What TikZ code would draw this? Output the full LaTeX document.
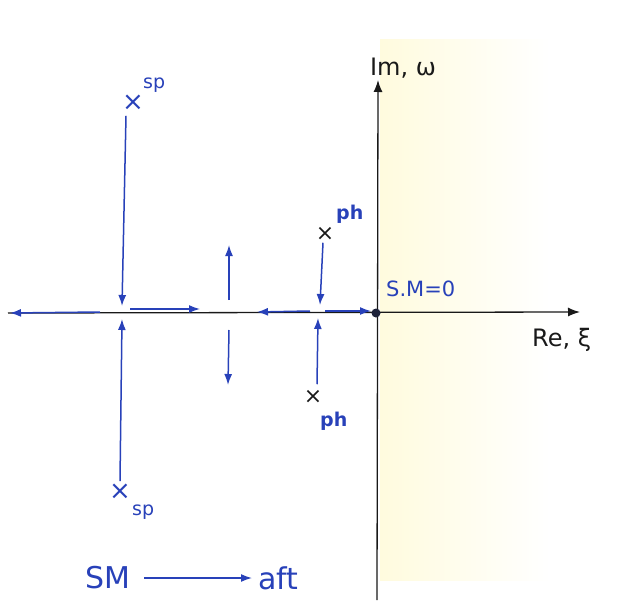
\documentclass[tikz,border=0pt]{standalone}
\usepackage{fontspec}
\setmainfont{DejaVu Sans}
\usetikzlibrary{arrows.meta}
\definecolor{pen}{RGB}{40,65,185}
\definecolor{ink}{RGB}{25,25,25}
\definecolor{hl}{RGB}{255,251,222}
\tikzset{
  axis/.style={ink, line width=1.3pt, -{Latex[length=12pt,width=9pt]}},
  locus/.style={pen, line width=1.5pt, -{Latex[length=11pt,width=8pt]}},
  bpole/.style={pen, font=\fontsize{26}{26}\selectfont, inner sep=0pt},
  kpole/.style={ink, font=\fontsize{22}{22}\selectfont, inner sep=0pt},
  lab/.style={pen, font=\fontsize{19}{19}\selectfont, inner sep=0pt},
  axlab/.style={ink, font=\fontsize{24}{24}\selectfont, inner sep=0pt},
}
\begin{document}
\begin{tikzpicture}[x=1pt,y=-1pt]
\useasboundingbox (0,0) rectangle (622,602);
\shade[left color=hl, right color=white] (380,40) rectangle (550,580);
\shade[top color=white, bottom color=white, middle color=white, opacity=0.0] (380,40) rectangle (550,60);
% axes
\coordinate (reL) at (8,313);
\coordinate (reR) at (580,312);
\coordinate (imB) at (377,600);
\coordinate (imT) at (378,80);
\draw[axis] (reL) -- (reR);
\draw[axis] (imB) -- (imT);
\node[axlab, anchor=south] (imlab) at (403,78) {Im, ω};
\node[axlab, anchor=north west] (relab) at (532,328) {Re, ξ};
% origin
\node[circle, fill=ink!80!pen, minimum size=9pt, inner sep=0pt] (o) at (376,313) {};
\node[lab, font=\fontsize{21}{21}\selectfont, anchor=west] (sm0) at (386,289) {S.M=0};
% short period poles
\node[bpole] (sp1) at (133,103) {×};
\node[lab, anchor=south west] (sp1l) at (143,93) {sp};
\node[bpole] (sp2) at (120,492) {×};
\node[lab, anchor=north west] (sp2l) at (132,505) {sp};
\coordinate (spU) at (122,306);
\coordinate (spD) at (122,319);
\draw[locus] (sp1.south) ++(-7,5) -- (spU);
\draw[locus] (sp2.north) ++(0,-3) -- (spD);
\coordinate (spR0) at (130,309);
\coordinate (spR1) at (200,309);
\draw[locus] (spR0) -- (spR1);
\coordinate (spL0) at (100,312);
\coordinate (spL1) at (10,313);
\draw[locus] (spL0) -- (spL1);
% breakaway vertical arrows
\coordinate (bU0) at (229,300);
\coordinate (bU1) at (229,245);
\coordinate (bD0) at (229,330);
\coordinate (bD1) at (228,385);
\draw[locus] (bU0) -- (bU1);
\draw[locus] (bD0) -- (bD1);
% phugoid poles
\node[kpole] (ph1) at (325,234) {×};
\node[lab, font=\fontsize{19}{19}\bfseries\selectfont, anchor=west] (ph1l) at (336,214) {ph};
\node[kpole] (ph2) at (313,397) {×};
\node[lab, font=\fontsize{19}{19}\bfseries\selectfont, anchor=north west] (ph2l) at (320,412) {ph};
\coordinate (phU) at (320,305);
\coordinate (phD) at (318,318);
\draw[locus] (ph1.south) ++(-2,2) -- (phU);
\draw[locus] (ph2.north) ++(4,-6) -- (phD);
\coordinate (phL0) at (310,311);
\coordinate (phL1) at (257,312);
\coordinate (phR0) at (325,311);
\coordinate (phR1) at (371,311);
\draw[locus] (phL0) -- (phL1);
\draw[locus] (phR0) -- (phR1);
% caption
\node[pen, font=\fontsize{30}{30}\selectfont, anchor=west, inner sep=0pt] (sm) at (85,578) {SM};
\node[pen, font=\fontsize{30}{30}\selectfont, anchor=west, inner sep=0pt] (aft) at (258,578) {aft};
\draw[locus, shorten <=14pt, shorten >=6pt] (sm.east) -- (aft.west);
\end{tikzpicture}
\end{document}
